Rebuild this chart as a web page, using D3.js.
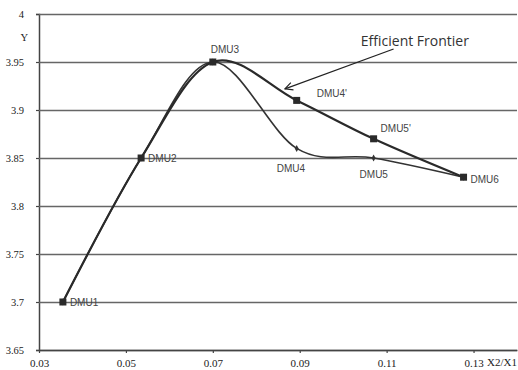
<!DOCTYPE html>
<html>
<head>
<meta charset="utf-8">
<script src="https://cdn.jsdelivr.net/npm/d3@7"></script>
<style>
  body { margin: 0; background: #fff; }
  svg { display: block; }
  .serif { font-family: "Liberation Serif", "DejaVu Serif", serif; }
</style>
</head>
<body>
<div id="chart"></div>
<script>
const WIDTH = 518
const HEIGHT = 370

// Data
const frontierNames = ["DMU1", "DMU2", "DMU3", "DMU4'", "DMU5'", "DMU6"]
const frontierX = [0.0355, 0.0535, 0.070, 0.0893, 0.107, 0.1277]
const frontierY = [3.70, 3.85, 3.95, 3.91, 3.87, 3.83]

const observedNames = ["DMU1", "DMU2", "DMU3", "DMU4", "DMU5", "DMU6"]
const observedX = [0.0355, 0.0535, 0.070, 0.0893, 0.107, 0.1277]
const observedY = [3.70, 3.85, 3.95, 3.86, 3.85, 3.83]

const xTicks = [0.03, 0.05, 0.07, 0.09, 0.11, 0.13]
const yTicks = [3.65, 3.7, 3.75, 3.8, 3.85, 3.9, 3.95, 4]

// annotation: text anchor and arrow (data units)
const noteText = "Efficient Frontier"
const noteAt = [0.1165, 3.967]
const arrowFrom = [0.1116, 3.9635]
const arrowTo = [0.0866, 3.922]

// label offsets in px [dx, dy] from the point
const labelOffset = {
  "DMU1": [7, 4], "DMU2": [7, 4], "DMU3": [-2, -9],
  "DMU4'": [20, -3], "DMU5'": [7, -7],
  "DMU4": [-20, 24], "DMU5": [-14, 20], "DMU6": [7, 6]
}

// Scales
const margin = { top: 14, right: 1, bottom: 20, left: 39 }
const x = d3.scaleLinear([0.03, 0.14], [margin.left, WIDTH - margin.right])
const y = d3.scaleLinear([3.65, 4], [HEIGHT - margin.bottom, margin.top])

const svg = d3.select("#chart").append("svg")
  .attr("width", WIDTH)
  .attr("height", HEIGHT)
  .attr("viewBox", [0, 0, WIDTH, HEIGHT])

// Grid + y axis
svg.append("g")
  .attr("transform", `translate(${margin.left},0)`)
  .call(d3.axisLeft(y).tickValues(yTicks).tickFormat(d3.format("")).tickSize(3).tickPadding(12))
  .call(g => g.attr("font-family", null))
  .call(g => g.select(".domain").attr("stroke", "#444").attr("stroke-width", 1.5))
  .call(g => g.selectAll(".tick line").attr("stroke", "#444").attr("stroke-width", 1.2))
  .call(g => g.selectAll(".tick line").clone()
    .attr("x2", WIDTH - margin.left - margin.right)
    .attr("stroke", "#666")
    .attr("stroke-width", 1.6))
  .call(g => g.selectAll(".tick text")
    .attr("class", "serif")
    .attr("font-size", 10.5)
    .attr("fill", "#222"))
  .call(g => g.append("text")
    .attr("class", "serif")
    .attr("x", -11)
    .attr("y", 41)
    .attr("fill", "#222")
    .attr("font-size", 10.5)
    .attr("text-anchor", "end")
    .text("Y"))

// x axis
svg.append("g")
  .attr("transform", `translate(0,${HEIGHT - margin.bottom})`)
  .call(d3.axisBottom(x).tickValues(xTicks).tickFormat(d3.format(".2f")).tickSize(3).tickPadding(6).tickSizeOuter(0))
  .call(g => g.attr("font-family", null))
  .call(g => g.select(".domain").attr("stroke", "#444").attr("stroke-width", 1.6))
  .call(g => g.selectAll(".tick line").attr("stroke", "#444").attr("stroke-width", 1.2))
  .call(g => g.selectAll(".tick text")
    .attr("class", "serif")
    .attr("font-size", 11)
    .attr("fill", "#222"))
  .call(g => g.append("text")
    .attr("class", "serif")
    .attr("x", WIDTH - 1)
    .attr("y", 16)
    .attr("fill", "#222")
    .attr("font-size", 11)
    .attr("text-anchor", "end")
    .text("X2/X1"))

// Lines
const line = d3.line()
  .x(i => i[0])
  .y(i => i[1])
  .curve(d3.curveCardinal.tension(0))

const obsPts = d3.range(observedX.length).map(i => [x(observedX[i]), y(observedY[i])])
const froPts = d3.range(frontierX.length).map(i => [x(frontierX[i]), y(frontierY[i])])

svg.append("path")
  .attr("d", line(obsPts))
  .attr("fill", "none")
  .attr("stroke", "#333")
  .attr("stroke-width", 1.6)

svg.append("path")
  .attr("d", line(froPts))
  .attr("fill", "none")
  .attr("stroke", "#2a2a2a")
  .attr("stroke-width", 2.2)

// markers
svg.append("g")
  .attr("fill", "#333")
  .selectAll("path")
  .data(obsPts)
  .join("path")
    .attr("d", d => `M${d[0]},${d[1] - 3.5}L${d[0] + 2},${d[1]}L${d[0]},${d[1] + 3.5}L${d[0] - 2},${d[1]}Z`)

svg.append("g")
  .attr("fill", "#2a2a2a")
  .selectAll("rect")
  .data(froPts)
  .join("rect")
    .attr("x", d => d[0] - 3.5)
    .attr("y", d => d[1] - 3.5)
    .attr("width", 7)
    .attr("height", 7)

// labels (shared points labelled once)
const labels = [
  ...frontierNames.map((n, i) => ({ n, p: froPts[i] })),
  ...observedNames.map((n, i) => ({ n, p: obsPts[i] }))
].filter((d, i, a) => a.findIndex(e => e.n === d.n) === i)

svg.append("g")
  .attr("font-family", "Liberation Sans, Arial, sans-serif")
  .attr("font-size", 10)
  .attr("fill", "#444")
  .selectAll("text")
  .data(labels)
  .join("text")
    .attr("x", d => d.p[0] + labelOffset[d.n][0])
    .attr("y", d => d.p[1] + labelOffset[d.n][1])
    .text(d => d.n)

// annotation
svg.append("defs").append("marker")
  .attr("id", "arrow")
  .attr("viewBox", "0 0 10 10")
  .attr("refX", 9)
  .attr("refY", 5)
  .attr("markerWidth", 8)
  .attr("markerHeight", 8)
  .attr("orient", "auto")
  .append("path")
    .attr("d", "M1,1L9,5L1,9")
    .attr("fill", "none")
    .attr("stroke", "#222")
    .attr("stroke-width", 1.2)

svg.append("line")
  .attr("x1", x(arrowFrom[0]))
  .attr("y1", y(arrowFrom[1]))
  .attr("x2", x(arrowTo[0]))
  .attr("y2", y(arrowTo[1]))
  .attr("stroke", "#222")
  .attr("stroke-width", 1.2)
  .attr("marker-end", "url(#arrow)")

svg.append("text")
  .attr("x", x(noteAt[0]))
  .attr("y", y(noteAt[1]))
  .attr("text-anchor", "middle")
  .attr("font-family", "Open Sans, Liberation Sans, sans-serif")
  .attr("font-size", 14)
  .attr("fill", "#333")
  .text(noteText)
</script>
</body>
</html>
